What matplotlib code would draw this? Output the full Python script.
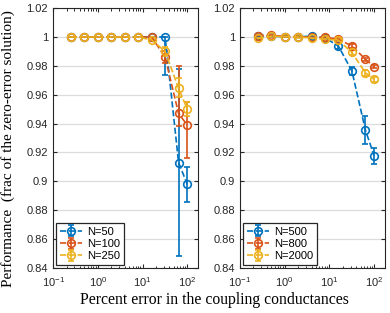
import numpy as np
import matplotlib
matplotlib.use("Agg")
import matplotlib.pyplot as plt
from matplotlib.ticker import LogLocator, FixedLocator, NullFormatter

# --- data ---
x = [0.25, 0.5, 1, 2, 4, 8, 16, 32, 64, 100]

left_labels = ["N=50", "N=100", "N=250"]
left_vals = [
    [1, 1, 1, 1, 1, 1, 1, 1.0, 0.913, 0.898],
    [1, 1, 1, 1, 1, 1, 1.0, 0.986, 0.947, 0.939],
    [1, 1, 1, 1, 1, 1, 0.998, 0.990, 0.9645, 0.950],
]
left_lo = [
    [0, 0, 0, 0, 0, 0, 0, 0.026, 0.065, 0.0125],
    [0, 0, 0, 0, 0, 0, 0, 0.004, 0.009, 0.023],
    [0, 0, 0, 0, 0, 0, 0.001, 0.003, 0.006, 0.005],
]
left_hi = [
    [0, 0, 0, 0, 0, 0, 0, 0, 0.065, 0.012],
    [0, 0, 0, 0, 0, 0, 0, 0.004, 0.033, 0.016],
    [0, 0, 0, 0, 0, 0, 0.001, 0.003, 0.007, 0.005],
]

right_labels = ["N=500", "N=800", "N=2000"]
right_vals = [
    [1.0005, 1.0005, 1.0003, 1.0002, 1.0005, 0.9995, 0.9937, 0.9764, 0.9356, 0.9178],
    [1.001, 1.0012, 1.0003, 1.0002, 0.9998, 0.9998, 0.9985, 0.9937, 0.9847, 0.9794],
    [0.999, 1.0005, 1.0002, 1.0, 0.9993, 0.9985, 0.9978, 0.9893, 0.9752, 0.9706],
]
right_lo = [
    [0.0005, 0.0005, 0.0005, 0.0005, 0.0005, 0.001, 0.002, 0.003, 0.010, 0.0055],
    [0.0005, 0.0005, 0.0005, 0.0005, 0.0005, 0.0005, 0.001, 0.0015, 0.001, 0.001],
    [0.0005, 0.0005, 0.0005, 0.0005, 0.0005, 0.0005, 0.001, 0.002, 0.002, 0.002],
]
right_hi = right_lo

colors = ["#0072BD", "#D95319", "#EDB120"]
yticks = [0.84, 0.86, 0.88, 0.9, 0.92, 0.94, 0.96, 0.98, 1.0, 1.02]
ytick_labels = ["0.84", "0.86", "0.88", "0.9", "0.92", "0.94", "0.96", "0.98", "1", "1.02"]

plt.rcParams["font.family"] = ["Liberation Sans", "DejaVu Sans"]
plt.rcParams["mathtext.fontset"] = "custom"
plt.rcParams["mathtext.rm"] = "Liberation Sans"
plt.rcParams["mathtext.it"] = "Liberation Sans"

fig = plt.figure(figsize=(3.9, 3.13), dpi=100)
ax1 = fig.add_axes([0.136, 0.144, 0.372, 0.830])
ax2 = fig.add_axes([0.615, 0.144, 0.372, 0.830])


def draw(ax, vals, lo, hi, labels):
    for v, l, h, c, lab in zip(vals, lo, hi, colors, labels):
        ax.errorbar(x, v, yerr=[l, h], color=c, ls="--", lw=1.2,
                    marker="o", ms=5.5, mfc="none", mew=1.2,
                    capsize=2.5, elinewidth=1.2, label=lab)
    ax.set_xscale("log")
    ax.set_xlim(0.1, 175)
    ax.set_ylim(0.84, 1.02)
    ax.set_yticks(yticks)
    ax.set_yticklabels(ytick_labels)
    ax.xaxis.set_major_locator(FixedLocator([0.1, 1, 10, 100]))
    ax.xaxis.set_minor_locator(LogLocator(base=10, subs=np.arange(2, 10)))
    ax.xaxis.set_minor_formatter(NullFormatter())
    ax.tick_params(direction="in", top=True, right=True, labelsize=8,
                   length=3, width=0.8, colors="#262626")
    ax.tick_params(axis="x", pad=5)
    ax.tick_params(which="minor", direction="in", top=True, length=1.8, width=0.6)
    ax.grid(axis="y", color="#dcdcdc", lw=0.9)
    ax.set_axisbelow(True)
    for s in ax.spines.values():
        s.set_color("#262626")
        s.set_linewidth(0.8)
    leg = ax.legend(loc="lower left", fontsize=8, fancybox=False,
                    edgecolor="#262626", framealpha=1, handlelength=2.0,
                    borderpad=0.3, labelspacing=0.2, handletextpad=0.5,
                    borderaxespad=0.3)
    leg.get_frame().set_linewidth(0.9)


draw(ax1, left_vals, left_lo, left_hi, left_labels)
draw(ax2, right_vals, right_lo, right_hi, right_labels)

fig.text(0.02, 0.526, "Performance  (frac of the zero-error solution)",
         family="Liberation Serif", fontsize=11, rotation=90,
         ha="center", va="center")
fig.text(0.55, 0.04, "Percent error in the coupling conductances",
         family="Liberation Serif", fontsize=11.3, ha="center", va="center")

plt.savefig("out.png", dpi=100)
